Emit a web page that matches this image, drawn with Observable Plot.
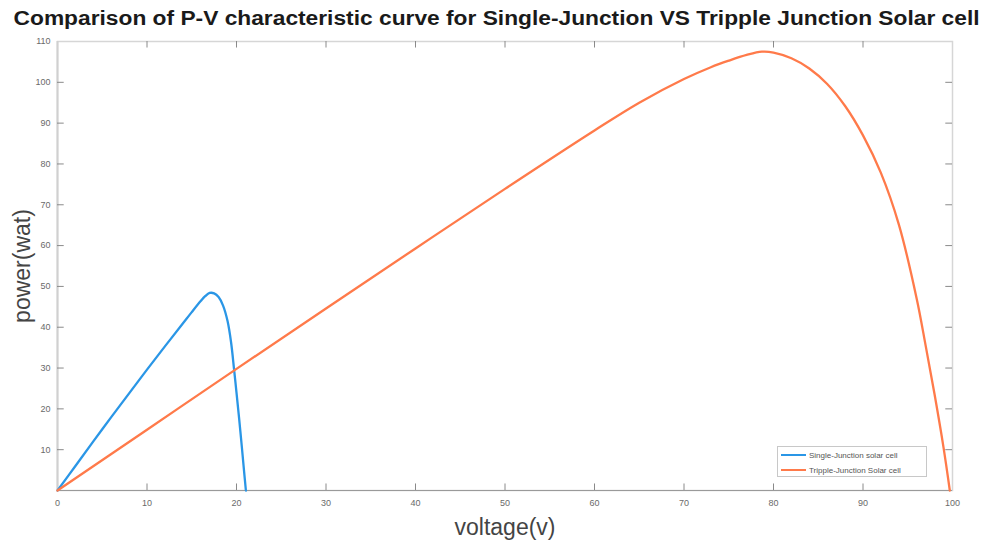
<!DOCTYPE html>
<html>
<head>
<meta charset="utf-8">
<script src="https://cdn.jsdelivr.net/npm/d3@7"></script>
<script src="https://cdn.jsdelivr.net/npm/@observablehq/plot@0.6"></script>
<style>
  html, body { margin: 0; padding: 0; background: #fff; }
  #wrap { position: relative; width: 993px; height: 543px; overflow: hidden; font-family: "Liberation Sans", Arial, sans-serif; }
  #title { position: absolute; left: 0; top: 7px; width: 993px; height: 26px; text-align: center; white-space: nowrap; }
  #title span { display: inline-block; font-weight: bold; font-size: 20px; color: #1a1a1a; transform-origin: center center; }
  #chart { position: absolute; left: 0; top: 33px; }
  #legend { position: absolute; left: 777px; top: 446px; width: 148px; height: 29px; border: 1px solid #c8c8c8; background: #fff; font-size: 8px; color: #555; }
  .li { position: absolute; left: 3px; height: 10px; display: flex; align-items: center; white-space: nowrap; }
  .sw { display: inline-block; width: 25px; height: 2.5px; margin-right: 3px; }
</style>
</head>
<body>
<div id="wrap">
  <div id="title"><span id="tspan">Comparison of P-V characteristic curve for Single-Junction VS Tripple Junction Solar cell</span></div>
  <div id="chart"></div>
  <div id="legend"></div>
</div>
<script>
// ---- data ----
const xTicks = [0, 10, 20, 30, 40, 50, 60, 70, 80, 90, 100];
const yTicks = [10, 20, 30, 40, 50, 60, 70, 80, 90, 100, 110];

const seriesNames = ["Single-Junction solar cell", "Tripple-Junction Solar cell"];
const seriesColors = ["#2a96e6", "#ff7a4a"];

// Single-junction P-V curve
const singleV = [0, 2, 5, 8, 10, 12, 14, 15, 16, 16.5, 17, 17.5, 18, 18.5, 19.0, 19.4, 19.74, 20.0, 20.3, 20.6, 20.85, 21.05];
const singleP = [0, 6.0, 15.0, 23.8, 29.6, 35.3, 40.9, 43.7, 46.4, 47.6, 48.4, 48.3, 47.4, 45.3, 41.5, 36.2, 29.4, 24.0, 17.5, 10.6, 4.6, 0];

// Tripple-junction P-V curve
const tripleV = [0, 10, 20, 30, 40, 50, 60, 65, 70, 73, 75, 77, 78.7, 80, 82, 84, 86, 88, 90, 92, 94, 96, 97, 98, 99, 99.7];
const tripleP = [0, 14.9, 29.8, 44.6, 59.3, 73.9, 88.2, 95.0, 100.8, 103.7, 105.3, 106.7, 107.5, 107.3, 105.9, 103.4, 99.6, 94.2, 87.0, 77.8, 65.2, 47.0, 35.5, 23.5, 10.5, 0];

// ---- build tables ----
const single = singleV.map((v, i) => ({v, p: singleP[i]}));
const triple = tripleV.map((v, i) => ({v, p: tripleP[i]}));

const chart = Plot.plot({
  width: 993,
  height: 510,
  marginLeft: 57,
  marginRight: 41,
  marginTop: 8,
  marginBottom: 53,
  x: {domain: [0, 100]},
  y: {domain: [0, 110]},
  style: {fontFamily: "'Liberation Sans', Arial, sans-serif", color: "#6a6a6a", background: "transparent", overflow: "visible"},
  marks: [
    Plot.frame({stroke: "#d6d6d6", strokeWidth: 1.5}),
    Plot.ruleY([0], {stroke: "#9a9a9a", strokeWidth: 1.2}),
    Plot.ruleX([0], {stroke: "#d0d0d0", strokeWidth: 2}),
    // inward tick marks (MATLAB style) on all four sides
    Plot.ruleY(yTicks.slice(0, -1), {y: d => d, x1: 0, x2: 0.75, stroke: "#8a8a8a"}),
    Plot.ruleY(yTicks.slice(0, -1), {y: d => d, x1: 99.25, x2: 100, stroke: "#8a8a8a"}),
    Plot.ruleX(xTicks.slice(1, -1), {x: d => d, y1: 0, y2: 1.6, stroke: "#8a8a8a"}),
    Plot.ruleX(xTicks.slice(1, -1), {x: d => d, y1: 108.4, y2: 110, stroke: "#8a8a8a"}),
    Plot.axisX({ticks: xTicks, tickSize: 0, tickPadding: 9, fontSize: 9, label: null, tickFormat: d => String(d)}),
    Plot.axisY({ticks: yTicks, tickSize: 0, tickPadding: 7, fontSize: 9, label: null, tickFormat: d => String(d)}),
    Plot.line(single, {x: "v", y: "p", stroke: seriesColors[0], strokeWidth: 2.3, curve: "catmull-rom"}),
    Plot.line(triple, {x: "v", y: "p", stroke: seriesColors[1], strokeWidth: 2.3, curve: "catmull-rom"}),
    Plot.text(["power(wat)"], {frameAnchor: "left", dx: -35, rotate: -90, fontSize: 23, fill: "#444", textAnchor: "middle", lineAnchor: "middle"}),
    Plot.text(["voltage(v)"], {frameAnchor: "bottom", dy: 37, fontSize: 23, fill: "#444", textAnchor: "middle", lineAnchor: "middle"})
  ]
});
document.getElementById("chart").appendChild(chart);

// legend
const legend = document.getElementById("legend");
seriesNames.forEach((name, i) => {
  const row = document.createElement("div");
  row.className = "li";
  row.style.top = (3 + i * 15) + "px";
  const sw = document.createElement("span");
  sw.className = "sw";
  sw.style.background = seriesColors[i];
  const tx = document.createElement("span");
  tx.textContent = name;
  row.appendChild(sw);
  row.appendChild(tx);
  legend.appendChild(row);
});

// fit title to the reference width
const ts = document.getElementById("tspan");
const w = ts.getBoundingClientRect().width;
ts.style.transform = "scaleX(" + (966 / w) + ")";
</script>
</body>
</html>
